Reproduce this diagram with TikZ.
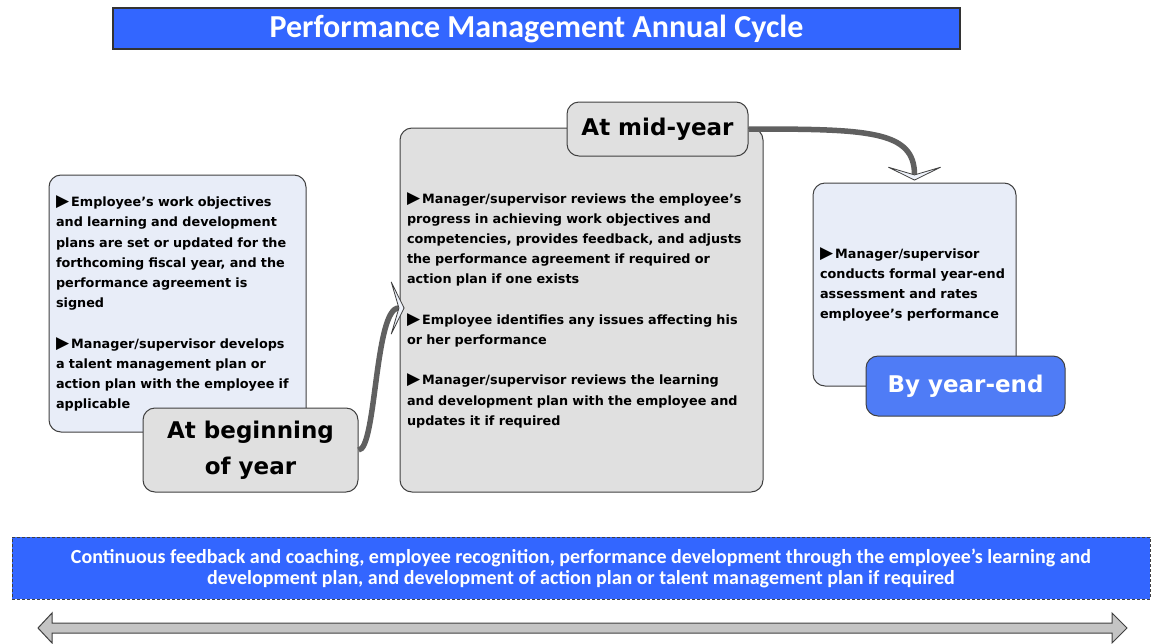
\documentclass[tikz,border=0pt]{standalone}
\usepackage{fontspec}
\usepackage{xcolor}
\usepackage{tikz}
\usetikzlibrary{arrows.meta,positioning}
\newfontfamily\dejavu{DejaVu Sans}
\newfontfamily\carlito{Carlito}

\definecolor{titleblue}{HTML}{3366FF}
\definecolor{yearblue}{HTML}{4F7CF6}
\definecolor{paleblue}{HTML}{E8EDF8}
\definecolor{panelgray}{HTML}{E0E0E0}
\definecolor{edgegray}{HTML}{404040}
\definecolor{linkgray}{HTML}{606060}
\definecolor{tipfill}{HTML}{EEF2FA}
\definecolor{bargray}{HTML}{C4C4C4}

% bullet in front of each point
\newcommand\pointer{{\fontsize{17}{20.2}\selectfont ▶}}

\tikzset{
  panel/.style={draw=edgegray, line width=1pt, rounded corners=12pt, inner sep=7pt,
    align=left, font=\dejavu\bfseries\fontsize{12.8}{20.2}\selectfont},
  stage/.style={draw=edgegray, line width=1pt, rounded corners=12pt, align=center,
    font=\dejavu\bfseries\fontsize{23}{36}\selectfont},
  link/.style={line width=5.5pt, draw=linkgray,
    -{Stealth[length=15pt, width=61pt, inset=9pt, line width=0.8pt, color=edgegray, fill=tipfill]}},
  banner/.style={fill=titleblue, text=white, align=center},
  bar/.style={fill=bargray, draw=edgegray, line width=1pt, line join=miter},
}

\begin{document}
\begin{tikzpicture}[x=1pt, y=-1pt]
    \useasboundingbox (0,0) rectangle (1151,643);

    % Title
    \node[banner, draw=black!80, line width=1.5pt, minimum width=847pt, minimum height=41pt,
      font=\carlito\bfseries\fontsize{32}{36}\selectfont] (title) at (536.5,28.5)
      {Performance Management Annual Cycle};

    % Beginning of year
    \node[panel, fill=paleblue, minimum width=257pt, minimum height=257pt, text width=243pt]
      (plan) at (177.5,303.5)
      {\pointer\,Employee’s work objectives\\
       and learning and development\\
       plans are set or updated for the\\
       forthcoming fiscal year, and the\\
       performance agreement is\\
       signed\\[20.2pt]
       \pointer\,Manager/supervisor develops\\
       a talent management plan or\\
       action plan with the employee if\\
       applicable};
    \node[stage, fill=panelgray, minimum width=215pt, minimum height=84pt] (begin) at (250.5,450)
      {At beginning\\of year};

    % Mid-year
    \node[panel, fill=panelgray, minimum width=363pt, minimum height=364pt, text width=349pt]
      (review) at (581.5,310)
      {\pointer\,Manager/supervisor reviews the employee’s\\
       progress in achieving work objectives and\\
       competencies, provides feedback, and adjusts\\
       the performance agreement if required or\\
       action plan if one exists\\[20.2pt]
       \pointer\,Employee identifies any issues affecting his\\
       or her performance\\[20.2pt]
       \pointer\,Manager/supervisor reviews the learning\\
       and development plan with the employee and\\
       updates it if required};
    \node[stage, fill=panelgray, minimum width=181pt, minimum height=54pt] (midyear) at (657.5,129)
      {At mid-year};

    % Year-end
    \node[panel, fill=paleblue, minimum width=203pt, minimum height=203pt, text width=189pt]
      (assess) at (914.5,284.5)
      {\pointer\,Manager/supervisor\\
       conducts formal year-end\\
       assessment and rates\\
       employee’s performance};
    \node[stage, fill=yearblue, text=white, minimum width=199pt, minimum height=60pt] (yearend)
      at (965.5,386) {By year-end};

    % Links between the stages
    \draw[link] (begin.east) .. controls +(18,0) and +(-30,0) .. ([xshift=5pt,yshift=2pt]review.west);
    \draw[link] (midyear.east) .. controls +(120,0) and +(0,-50) .. ([yshift=2pt]assess.north);

    % Ongoing activities
    \node[banner, draw=black!75, dash pattern=on 3pt off 2pt, line width=1pt,
      minimum width=1138pt, minimum height=62pt,
      font=\carlito\bfseries\fontsize{20}{21}\selectfont] (ongoing) at (581,568)
      {Continuous feedback and coaching, employee recognition, performance development through the employee’s learning and\\
       development plan, and development of action plan or talent management plan if required};

    % Whole-year arrow
    \draw[bar] (38,628) -- (52,613) -- (52,623) -- (1112,623) -- (1112,613) -- (1127,628)
      -- (1112,643) -- (1112,633) -- (52,633) -- (52,643) -- cycle;
\end{tikzpicture}
\end{document}
